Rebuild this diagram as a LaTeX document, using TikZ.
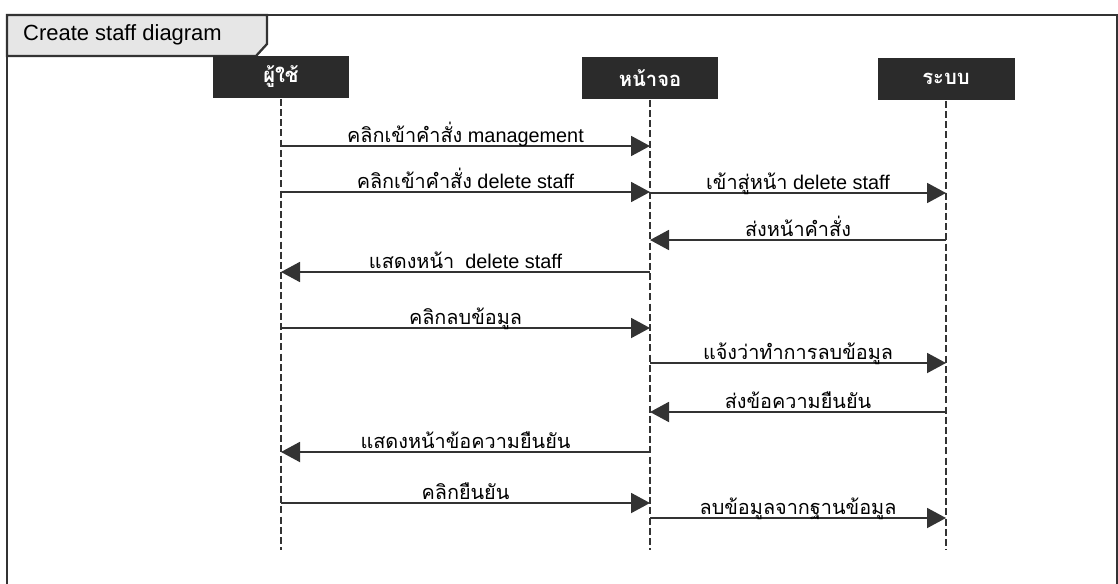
\documentclass[tikz,border=0pt]{standalone}
\usepackage{fontspec}
\setmainfont{Liberation Sans}
\newfontfamily\thai[Script=Thai]{Loma}
\usetikzlibrary{arrows.meta,positioning,calc}

\definecolor{boxgray}{HTML}{2B2B2B}
\definecolor{tabgray}{HTML}{E6E6E6}
\definecolor{linegray}{HTML}{333333}

\tikzset{
    actor/.style={fill=boxgray, text=white, minimum width=2.74cm, minimum height=0.86cm,
        inner sep=0pt, font=\thai\bfseries\fontsize{11.5}{13}\selectfont},
    lifeline/.style={line width=1.3pt, dash pattern=on 4pt off 1.8pt, linegray},
    msg/.style={line width=1.1pt, linegray, -{Triangle[length=0.38cm,width=0.4cm]}},
    lbl/.style={anchor=base, yshift=2pt, inner sep=0pt, text=black,
        font=\fontsize{11.3}{13}\selectfont},
}

\begin{document}
\begin{tikzpicture}[x=0.02cm, y=-0.02cm]
    \useasboundingbox (0,0) rectangle (1118,584);

    % frame and name tab
    \draw[line width=1.3pt, linegray] (7,590) -- (7,15) -- (1117,15) -- (1117,590);
    \draw[line width=1.3pt, linegray, fill=tabgray] (7,15) -- (267,15) -- (267,44) -- (256,56) -- (7,56) -- cycle;
    \node[anchor=west, font=\fontsize{12.5}{14}\selectfont] (title) at (17,35) {Create staff diagram};

    % actors
    \node[actor] (user) at (281,77) {ผู้ใช้};
    \node[actor] (screen) at (650,78) {หน้าจอ};
    \node[actor] (system) at (946,79) {ระบบ};

    \coordinate (userEnd) at (281,550);
    \coordinate (screenEnd) at (650,550);
    \coordinate (systemEnd) at (946,550);

    \draw[lifeline] (user) -- (userEnd);
    \draw[lifeline] (screen) -- (screenEnd);
    \draw[lifeline] (system) -- (systemEnd);

    % messages
    \foreach \y/\from/\to/\txt in {
        146/user/screen/{{\thai คลิกเข้าคำสั่ง} management},
        192/user/screen/{{\thai คลิกเข้าคำสั่ง} delete staff},
        193/screen/system/{{\thai เข้าสู่หน้า} delete staff},
        240/system/screen/{\thai ส่งหน้าคำสั่ง},
        272/screen/user/{{\thai แสดงหน้า}\ \ delete staff},
        328/user/screen/{\thai คลิกลบข้อมูล},
        363/screen/system/{\thai แจ้งว่าทำการลบข้อมูล},
        412/system/screen/{\thai ส่งข้อความยืนยัน},
        452/screen/user/{\thai แสดงหน้าข้อความยืนยัน},
        503/user/screen/{\thai คลิกยืนยัน},
        518/screen/system/{\thai ลบข้อมูลจากฐานข้อมูล}}{
        \draw[msg] (\from |- 0,\y) -- node[lbl] {\txt} (\to |- 0,\y);
    }
\end{tikzpicture}
\end{document}
